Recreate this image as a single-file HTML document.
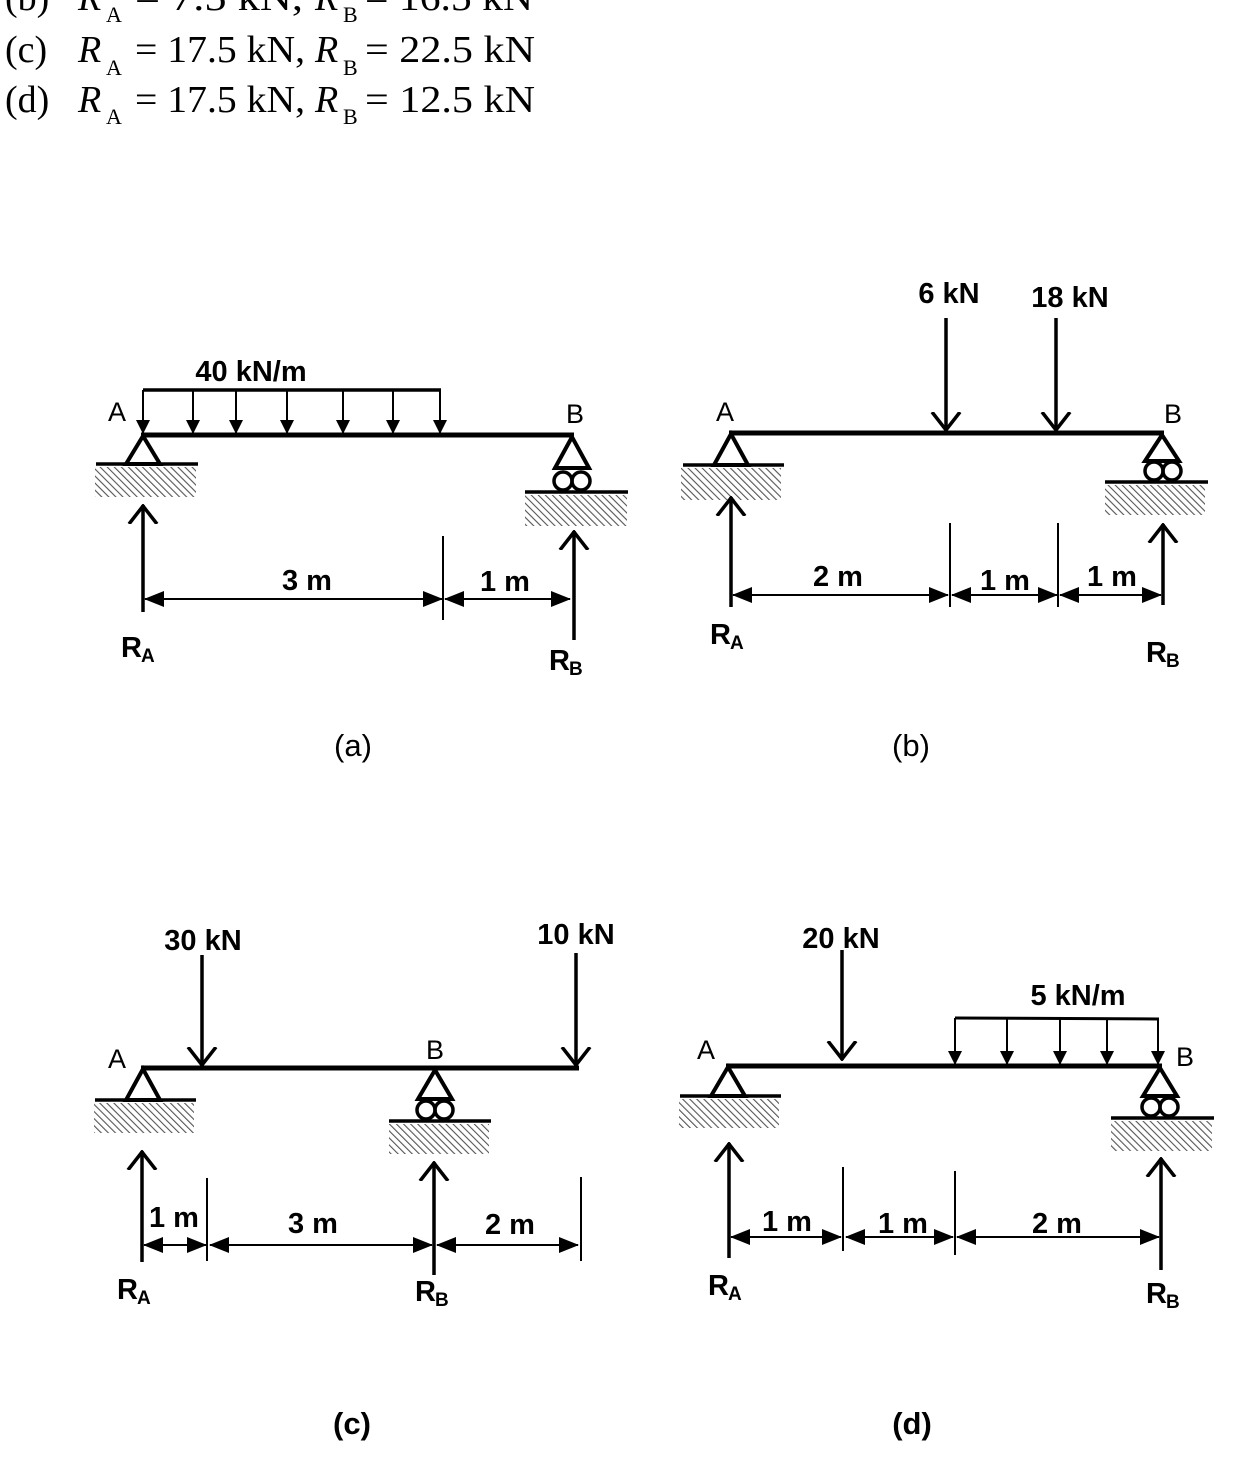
<!DOCTYPE html>
<html><head><meta charset="utf-8"><style>
html,body{margin:0;padding:0;background:#fff;width:1239px;height:1482px;overflow:hidden}
svg{display:block}
.t{font-family:"Liberation Serif",serif;font-size:38px;fill:#000}
.s{font-family:"Liberation Serif",serif;font-size:22px;fill:#000}
.b{font-family:"Liberation Sans",sans-serif;font-weight:bold;font-size:29px;fill:#000}
.r{font-family:"Liberation Sans",sans-serif;font-size:27px;fill:#000}
.cap{font-family:"Liberation Sans",sans-serif;font-size:31px;fill:#000}
.sb{font-family:"Liberation Sans",sans-serif;font-weight:bold;font-size:19px;fill:#000}
</style></head><body>
<svg width="1239" height="1482" viewBox="0 0 1239 1482" xmlns="http://www.w3.org/2000/svg">
<defs>
<pattern id="h" width="5" height="5" patternUnits="userSpaceOnUse" patternTransform="rotate(-45)">
<rect width="5" height="5" fill="#fff"/><line x1="0" y1="0" x2="0" y2="5" stroke="#555" stroke-width="2.2"/>
</pattern>
<marker id="f" markerWidth="20" markerHeight="16" refX="19" refY="8" orient="auto-start-reverse" markerUnits="userSpaceOnUse">
<path d="M0,0 L20,8 L0,16 Z" fill="#000"/></marker>
<marker id="u" markerWidth="14" markerHeight="14" refX="14" refY="7" orient="auto" markerUnits="userSpaceOnUse">
<path d="M0,0 L14,7 L0,14 Z" fill="#000"/></marker>
<marker id="v" markerWidth="20" markerHeight="32" refX="19" refY="16" orient="auto" markerUnits="userSpaceOnUse">
<path d="M0,2 L18,16 L0,30" fill="none" stroke="#000" stroke-width="3.5"/></marker>
</defs>

<text class="t" x="5" y="10">(b)</text><text class="t" x="78" y="10" font-style="italic">R</text><text class="s" x="106" y="22">A</text><text class="t" x="135" y="10" textLength="168" lengthAdjust="spacingAndGlyphs">= 7.5 kN,</text><text class="t" x="315" y="10" font-style="italic">R</text><text class="s" x="343" y="22">B</text><text class="t" x="365" y="10" textLength="168" lengthAdjust="spacingAndGlyphs">= 16.5 kN</text>
<text class="t" x="5" y="62">(c)</text><text class="t" x="78" y="62" font-style="italic">R</text><text class="s" x="106" y="75">A</text><text class="t" x="135" y="62" textLength="170" lengthAdjust="spacingAndGlyphs">= 17.5 kN,</text><text class="t" x="315" y="62" font-style="italic">R</text><text class="s" x="343" y="75">B</text><text class="t" x="365" y="62" textLength="170" lengthAdjust="spacingAndGlyphs">= 22.5 kN</text>
<text class="t" x="5" y="112">(d)</text><text class="t" x="78" y="112" font-style="italic">R</text><text class="s" x="106" y="124">A</text><text class="t" x="135" y="112" textLength="170" lengthAdjust="spacingAndGlyphs">= 17.5 kN,</text><text class="t" x="315" y="112" font-style="italic">R</text><text class="s" x="343" y="124">B</text><text class="t" x="365" y="112" textLength="170" lengthAdjust="spacingAndGlyphs">= 12.5 kN</text>

<g stroke="#000" fill="none">
<!-- (a) -->
<line x1="141" y1="435" x2="574" y2="435" stroke-width="5"/>
<path d="M143,436 L126,464 L160,464 Z" stroke-width="4"/>
<line x1="96" y1="464" x2="198" y2="464" stroke-width="3.5"/>
<rect x="95" y="467" width="101" height="30" fill="url(#h)" stroke="none"/>
<path d="M572,437 L555,468 L589,468 Z" stroke-width="4"/>
<circle cx="563" cy="481" r="9" stroke-width="3.5"/><circle cx="581" cy="481" r="9" stroke-width="3.5"/>
<line x1="525" y1="492" x2="628" y2="492" stroke-width="3.5"/>
<rect x="525" y="495" width="102" height="31" fill="url(#h)" stroke="none"/>
<line x1="143" y1="390" x2="441" y2="390" stroke-width="3.5"/>
<g stroke-width="2" marker-end="url(#u)">
<line x1="143" y1="390" x2="143" y2="434"/><line x1="193" y1="390" x2="193" y2="434"/><line x1="236" y1="390" x2="236" y2="434"/><line x1="287" y1="390" x2="287" y2="434"/><line x1="343" y1="390" x2="343" y2="434"/><line x1="393" y1="390" x2="393" y2="434"/><line x1="440" y1="390" x2="440" y2="434"/>
</g>
<g stroke-width="3.5" marker-end="url(#v)">
<line x1="143" y1="612" x2="143" y2="505"/><line x1="574" y1="640" x2="574" y2="531"/>
</g>
<g stroke-width="2" marker-start="url(#f)" marker-end="url(#f)">
<line x1="145" y1="599" x2="442" y2="599"/><line x1="445" y1="599" x2="570" y2="599"/>
</g>
<line x1="443" y1="536" x2="443" y2="620" stroke-width="2"/>

<!-- (b) -->
<line x1="729" y1="433" x2="1164" y2="433" stroke-width="5"/>
<path d="M731,434 L714,465 L748,465 Z" stroke-width="4"/>
<line x1="683" y1="465" x2="784" y2="465" stroke-width="3.5"/>
<rect x="681" y="468" width="100" height="32" fill="url(#h)" stroke="none"/>
<path d="M1162,435 L1145,461 L1179,461 Z" stroke-width="4"/>
<circle cx="1154" cy="471" r="9" stroke-width="3.5"/><circle cx="1172" cy="471" r="9" stroke-width="3.5"/>
<line x1="1105" y1="482" x2="1208" y2="482" stroke-width="3.5"/>
<rect x="1105" y="485" width="100" height="30" fill="url(#h)" stroke="none"/>
<g stroke-width="3.5" marker-end="url(#v)">
<line x1="946" y1="318" x2="946" y2="431"/><line x1="1056" y1="318" x2="1056" y2="431"/>
<line x1="731" y1="607" x2="731" y2="497"/><line x1="1163" y1="605" x2="1163" y2="524"/>
</g>
<g stroke-width="2" marker-start="url(#f)" marker-end="url(#f)">
<line x1="733" y1="595" x2="948" y2="595"/><line x1="952" y1="595" x2="1057" y2="595"/><line x1="1060" y1="595" x2="1161" y2="595"/>
</g>
<line x1="950" y1="523" x2="950" y2="607" stroke-width="2"/><line x1="1058" y1="523" x2="1058" y2="607" stroke-width="2"/>

<!-- (c) -->
<line x1="141" y1="1068" x2="579" y2="1068" stroke-width="5"/>
<path d="M143,1069 L126,1100 L160,1100 Z" stroke-width="4"/>
<line x1="95" y1="1100" x2="196" y2="1100" stroke-width="3.5"/>
<rect x="94" y="1103" width="100" height="30" fill="url(#h)" stroke="none"/>
<path d="M435,1070 L418,1099 L452,1099 Z" stroke-width="4"/>
<circle cx="426" cy="1110" r="9" stroke-width="3.5"/><circle cx="444" cy="1110" r="9" stroke-width="3.5"/>
<line x1="389" y1="1121" x2="491" y2="1121" stroke-width="3.5"/>
<rect x="389" y="1124" width="100" height="30" fill="url(#h)" stroke="none"/>
<g stroke-width="3.5" marker-end="url(#v)">
<line x1="202" y1="955" x2="202" y2="1066"/><line x1="576" y1="953" x2="576" y2="1066"/>
<line x1="142" y1="1262" x2="142" y2="1151"/><line x1="434" y1="1275" x2="434" y2="1162"/>
</g>
<g stroke-width="2" marker-start="url(#f)" marker-end="url(#f)">
<line x1="144" y1="1245" x2="206" y2="1245"/><line x1="210" y1="1245" x2="432" y2="1245"/><line x1="437" y1="1245" x2="578" y2="1245"/>
</g>
<line x1="207" y1="1178" x2="207" y2="1261" stroke-width="2"/><line x1="581" y1="1177" x2="581" y2="1261" stroke-width="2"/>

<!-- (d) -->
<line x1="726" y1="1066" x2="1162" y2="1066" stroke-width="5"/>
<path d="M728,1067 L711,1096 L745,1096 Z" stroke-width="4"/>
<line x1="680" y1="1096" x2="781" y2="1096" stroke-width="3.5"/>
<rect x="679" y="1099" width="100" height="29" fill="url(#h)" stroke="none"/>
<path d="M1160,1068 L1143,1096 L1177,1096 Z" stroke-width="4"/>
<circle cx="1151" cy="1107" r="9" stroke-width="3.5"/><circle cx="1169" cy="1107" r="9" stroke-width="3.5"/>
<line x1="1111" y1="1118" x2="1214" y2="1118" stroke-width="3.5"/>
<rect x="1111" y="1121" width="101" height="30" fill="url(#h)" stroke="none"/>
<line x1="955" y1="1018" x2="1159" y2="1019" stroke-width="3"/>
<g stroke-width="2" marker-end="url(#u)">
<line x1="955" y1="1018" x2="955" y2="1065"/><line x1="1007" y1="1018" x2="1007" y2="1065"/><line x1="1060" y1="1018" x2="1060" y2="1065"/><line x1="1107" y1="1018" x2="1107" y2="1065"/><line x1="1158" y1="1018" x2="1158" y2="1065"/>
</g>
<g stroke-width="3.5" marker-end="url(#v)">
<line x1="842" y1="950" x2="842" y2="1060"/>
<line x1="729" y1="1258" x2="729" y2="1143"/><line x1="1161" y1="1270" x2="1161" y2="1158"/>
</g>
<g stroke-width="2" marker-start="url(#f)" marker-end="url(#f)">
<line x1="731" y1="1237" x2="841" y2="1237"/><line x1="846" y1="1237" x2="953" y2="1237"/><line x1="957" y1="1237" x2="1159" y2="1237"/>
</g>
<line x1="843" y1="1167" x2="843" y2="1251" stroke-width="2"/><line x1="955" y1="1171" x2="955" y2="1255" stroke-width="2"/>
</g>

<!-- labels -->
<text class="b" x="251" y="381" text-anchor="middle">40 kN/m</text>
<text class="r" x="117" y="421" text-anchor="middle">A</text><text class="r" x="575" y="423" text-anchor="middle">B</text>
<text class="b" x="307" y="590" text-anchor="middle">3 m</text><text class="b" x="505" y="591" text-anchor="middle">1 m</text>
<text class="b" x="121" y="657">R</text><text class="sb" x="141" y="662">A</text>
<text class="b" x="549" y="670">R</text><text class="sb" x="569" y="675">B</text>
<text class="cap" x="353" y="756" text-anchor="middle">(a)</text>

<text class="b" x="949" y="303" text-anchor="middle">6 kN</text><text class="b" x="1070" y="307" text-anchor="middle">18 kN</text>
<text class="r" x="725" y="421" text-anchor="middle">A</text><text class="r" x="1173" y="423" text-anchor="middle">B</text>
<text class="b" x="838" y="586" text-anchor="middle">2 m</text><text class="b" x="1005" y="590" text-anchor="middle">1 m</text><text class="b" x="1112" y="586" text-anchor="middle">1 m</text>
<text class="b" x="710" y="644">R</text><text class="sb" x="730" y="649">A</text>
<text class="b" x="1146" y="662">R</text><text class="sb" x="1166" y="667">B</text>
<text class="cap" x="911" y="756" text-anchor="middle">(b)</text>

<text class="b" x="203" y="950" text-anchor="middle">30 kN</text><text class="b" x="576" y="944" text-anchor="middle">10 kN</text>
<text class="r" x="117" y="1068" text-anchor="middle">A</text><text class="r" x="435" y="1059" text-anchor="middle">B</text>
<text class="b" x="174" y="1227" text-anchor="middle">1 m</text><text class="b" x="313" y="1233" text-anchor="middle">3 m</text><text class="b" x="510" y="1234" text-anchor="middle">2 m</text>
<text class="b" x="117" y="1299">R</text><text class="sb" x="137" y="1304">A</text>
<text class="b" x="415" y="1301">R</text><text class="sb" x="435" y="1306">B</text>
<text class="cap" x="352" y="1434" text-anchor="middle" font-weight="bold">(c)</text>

<text class="b" x="841" y="948" text-anchor="middle">20 kN</text><text class="b" x="1078" y="1005" text-anchor="middle">5 kN/m</text>
<text class="r" x="706" y="1059" text-anchor="middle">A</text><text class="r" x="1185" y="1066" text-anchor="middle">B</text>
<text class="b" x="787" y="1231" text-anchor="middle">1 m</text><text class="b" x="903" y="1233" text-anchor="middle">1 m</text><text class="b" x="1057" y="1233" text-anchor="middle">2 m</text>
<text class="b" x="708" y="1295">R</text><text class="sb" x="728" y="1300">A</text>
<text class="b" x="1146" y="1303">R</text><text class="sb" x="1166" y="1308">B</text>
<text class="cap" x="912" y="1434" text-anchor="middle" font-weight="bold">(d)</text>
</svg>
</body></html>
